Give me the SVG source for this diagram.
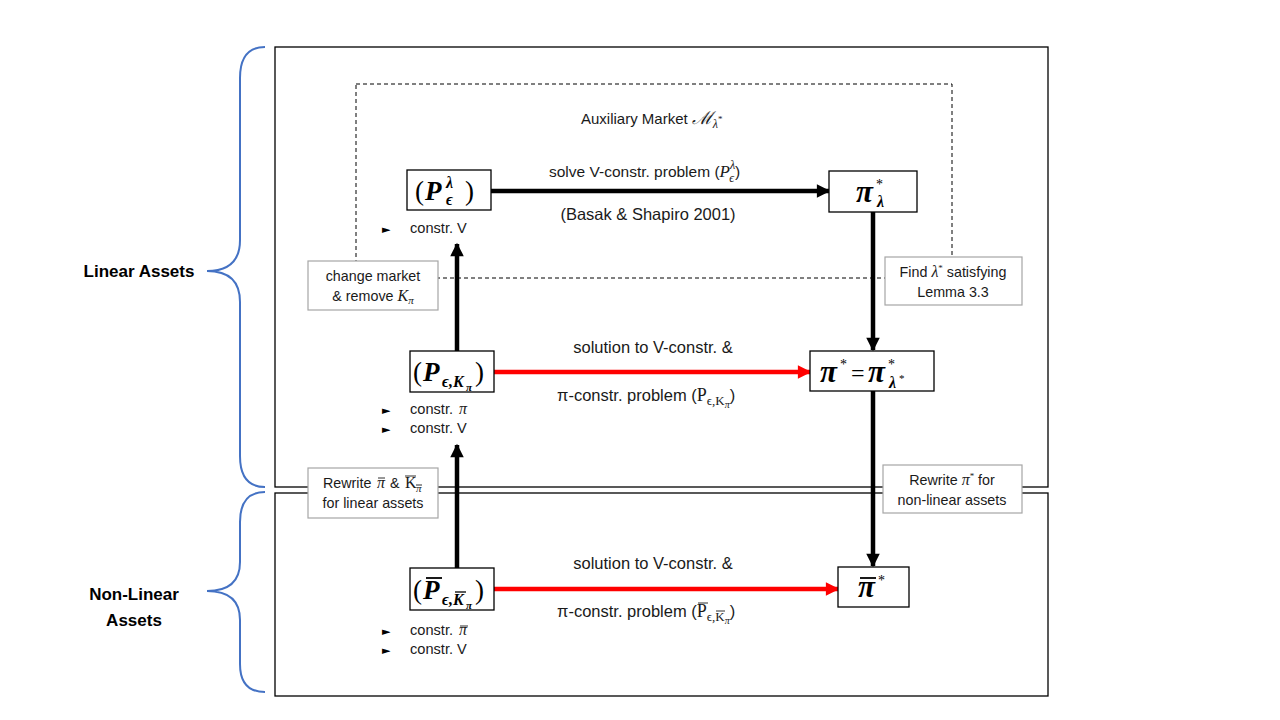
<svg xmlns="http://www.w3.org/2000/svg" width="1280" height="720" viewBox="0 0 1280 720">
<style>
.lbl{font-family:"Liberation Sans",Arial,sans-serif;font-size:16.5px;fill:#1a1a1a}
.sm{font-family:"Liberation Sans",Arial,sans-serif;font-size:14.6px;fill:#1a1a1a}
.note{font-family:"Liberation Sans",Arial,sans-serif;font-size:14.3px;fill:#1a1a1a}
.side{font-family:"Liberation Sans",Arial,sans-serif;font-size:17px;font-weight:bold;fill:#000}
.mp{font-family:"Liberation Serif","Times New Roman",serif;font-size:27px;fill:#000}
.pi{font-family:"Liberation Serif","Times New Roman",serif;font-size:31px;font-weight:bold;font-style:italic;fill:#000}
.mt{font-family:"Liberation Serif","Times New Roman",serif;font-size:17px;fill:#1a1a1a}
.bi{font-weight:bold;font-style:italic}
.it{font-style:italic}
.s18{font-size:18px}
.s16{font-size:16px}
.s15{font-size:15px}
.s14{font-size:14px}
.s13{font-size:13px}
.s12{font-size:12px}
.s11{font-size:11px}
.s10{font-size:10px}
.s9{font-size:9px}
.bul{font-family:"DejaVu Sans",sans-serif;font-size:11px;fill:#000}
.node{fill:#fff;stroke:#000;stroke-width:1.3}
.gbox{fill:#fff;stroke:#a6a6a6;stroke-width:1.2}
.frame{fill:none;stroke:#000;stroke-width:1.3}
.brace{fill:none;stroke:#4472c4;stroke-width:2}
.blk{stroke:#000;stroke-width:4.5;fill:none}
.red{stroke:#ff0000;stroke-width:4.5;fill:none}
.bar{stroke:#000;stroke-width:1.8}
.tbar{stroke:#1a1a1a;stroke-width:0.9}
</style>
<defs>
<marker id="ab" viewBox="0 0 10 10" refX="9" refY="5" markerWidth="3.4" markerHeight="3" orient="auto" markerUnits="strokeWidth"><path d="M0,0 L10,5 L0,10 z" fill="#000"/></marker>
<marker id="ar" viewBox="0 0 10 10" refX="9" refY="5" markerWidth="3.4" markerHeight="3" orient="auto" markerUnits="strokeWidth"><path d="M0,0 L10,5 L0,10 z" fill="#ff0000"/></marker>
</defs>
<rect width="1280" height="720" fill="#fff"/>

<g id="frames">
<rect class="frame" x="275" y="47" width="773" height="440"/>
<rect class="frame" x="275" y="493" width="773" height="203"/>
<rect x="356" y="84" width="596" height="194" fill="none" stroke="#000" stroke-width="1" stroke-dasharray="4,3"/>
</g>

<g id="braces">
<path class="brace" d="M265 47 Q240 47 240 78 L240 240 Q240 271 207 271 Q240 271 240 302 L240 456 Q240 487 265 487"/>
<path class="brace" d="M265 492 Q240 492 240 522 L240 562 Q240 591 207 591 Q240 591 240 620 L240 664 Q240 692 265 692"/>
<text class="side" x="139" y="277" text-anchor="middle">Linear Assets</text>
<text class="side" x="134" y="600" text-anchor="middle">Non-Linear</text>
<text class="side" x="134" y="626" text-anchor="middle">Assets</text>
</g>

<g id="aux-title">
<text class="lbl" x="581" y="124" style="font-size:15px">Auxiliary Market <tspan font-family="DejaVu Serif,serif" font-style="italic" style="font-size:18px">ℳ</tspan><tspan class="mt it s12" dy="4">λ</tspan><tspan class="mt s9" dy="-6">*</tspan></text>
</g>

<g id="connectors">
<line class="blk" x1="491" y1="191" x2="829" y2="191" marker-end="url(#ab)"/>
<line class="blk" x1="873" y1="212" x2="873" y2="350" marker-end="url(#ab)"/>
<line class="blk" x1="873" y1="391" x2="873" y2="566" marker-end="url(#ab)"/>
<line class="blk" x1="457" y1="351" x2="457" y2="244" marker-end="url(#ab)"/>
<line class="blk" x1="457" y1="568" x2="457" y2="445" marker-end="url(#ab)"/>
<line class="red" x1="494" y1="372" x2="810" y2="372" marker-end="url(#ar)"/>
<line class="red" x1="494" y1="589" x2="838" y2="589" marker-end="url(#ar)"/>
</g>

<g id="edge-labels">
<text class="lbl" x="549" y="177" style="font-size:15.5px">solve V-constr. problem (<tspan class="mt it">P</tspan><tspan class="mt it s12" dy="-8">λ</tspan><tspan class="mt it s12" dx="-6" dy="13">ϵ</tspan><tspan dx="1" dy="-5">)</tspan></text>
<text class="lbl" x="648" y="220" text-anchor="middle">(Basak &amp; Shapiro 2001)</text>

<text class="lbl" x="653" y="353" text-anchor="middle">solution to V-constr. &amp;</text>
<text class="lbl" x="557" y="401">π-constr. problem (<tspan class="mt s18">P</tspan><tspan class="mt s13" dy="4">ϵ,K</tspan><tspan class="mt it s10" dy="3">π</tspan><tspan dy="-7">)</tspan></text>

<text class="lbl" x="653" y="569" text-anchor="middle">solution to V-constr. &amp;</text>
<text class="lbl" x="557" y="617">π-constr. problem (<tspan class="mt s18">P</tspan><tspan class="mt s13" dy="4">ϵ,K</tspan><tspan class="mt it s10" dy="3">π</tspan><tspan dy="-7">)</tspan></text>
<line class="tbar" x1="698" y1="603" x2="708" y2="603"/>
<line class="tbar" x1="716" y1="611" x2="725" y2="611"/>
</g>

<g id="n-plambda">
<rect class="node" x="407" y="170" width="84" height="40"/>
<text class="mp" x="415" y="200">(</text>
<text class="mp bi" x="425" y="200">P</text>
<text class="mp bi s16" x="446" y="188">λ</text>
<text class="mp bi s16" x="446" y="205">ϵ</text>
<text class="mp" x="465" y="200">)</text>
<text class="bul" x="382" y="233">►</text>
<text class="sm" x="410" y="233">constr. V</text>
</g>

<g id="n-pilambda">
<rect class="node" x="829" y="171" width="88" height="41"/>
<text class="pi" x="856" y="202">π</text>
<text class="mp s14" x="876" y="189">*</text>
<text class="mp bi s16" x="877" y="207">λ</text>
</g>

<g id="n-pk">
<rect class="node" x="410" y="351" width="84" height="41"/>
<text class="mp" x="413" y="381">(</text>
<text class="mp bi" x="423" y="381">P</text>
<text class="mp bi s16" x="442" y="387">ϵ,K</text>
<text class="mp bi s11" x="466" y="391">π</text>
<text class="mp" x="475" y="381">)</text>
<text class="bul" x="382" y="414">►</text>
<text class="sm" x="410" y="414">constr.</text>
<text class="mt it s16" x="459" y="414">π</text>
<text class="bul" x="382" y="433">►</text>
<text class="sm" x="410" y="433">constr. V</text>
</g>

<g id="n-pistar">
<rect class="node" x="810" y="351" width="124" height="40"/>
<text class="pi" x="820" y="382">π</text>
<text class="mp s14" x="840" y="369">*</text>
<text class="mp" x="851" y="381" style="font-size:24px">=</text>
<text class="pi" x="868" y="382">π</text>
<text class="mp s14" x="888" y="369">*</text>
<text class="mp bi s16" x="889" y="388">λ</text>
<text class="mp s11" x="899" y="382">*</text>
</g>

<g id="n-change">
<rect class="gbox" x="308" y="261" width="130" height="49"/>
<text class="note" x="373" y="281" text-anchor="middle">change market</text>
<text class="note" x="373" y="301" text-anchor="middle">&amp; remove <tspan class="mt it s16">K</tspan><tspan class="mt it s11" dy="3">π</tspan></text>
</g>

<g id="n-find">
<rect class="gbox" x="885" y="257" width="137" height="48"/>
<text class="note" x="953" y="277" text-anchor="middle">Find <tspan class="mt it s16">λ</tspan><tspan class="mt s9" dy="-6">*</tspan><tspan dy="6"> satisfying</tspan></text>
<text class="note" x="953" y="297" text-anchor="middle">Lemma 3.3</text>
</g>

<g id="n-rewrite1">
<rect class="gbox" x="308" y="468" width="130" height="50"/>
<text class="note" x="323" y="488">Rewrite</text>
<text class="mt it s16" x="377" y="488">π</text>
<line class="tbar" x1="378" y1="478" x2="385" y2="478"/>
<text class="note" x="390" y="488">&amp;</text>
<text class="mt s16" x="405" y="488">K</text>
<line class="tbar" x1="405" y1="476" x2="416" y2="476"/>
<text class="mt it s11" x="416" y="492">π</text>
<line class="tbar" x1="416" y1="485" x2="422" y2="485"/>
<text class="note" x="373" y="508" text-anchor="middle">for linear assets</text>
</g>

<g id="n-rewrite2">
<rect class="gbox" x="883" y="465" width="139" height="48"/>
<text class="note" x="952" y="485" text-anchor="middle">Rewrite <tspan class="mt it s16">π</tspan><tspan class="mt s9" dy="-6">*</tspan><tspan dy="6"> for</tspan></text>
<text class="note" x="952" y="505" text-anchor="middle">non-linear assets</text>
</g>

<g id="n-pbar">
<rect class="node" x="410" y="568" width="84" height="42"/>
<text class="mp" x="413" y="599">(</text>
<text class="mp bi" x="423" y="599">P</text>
<line class="bar" x1="426" y1="578" x2="442" y2="578"/>
<text class="mp bi s16" x="442" y="605">ϵ,K</text>
<line x1="455" y1="592" x2="466" y2="592" stroke="#000" stroke-width="1.3"/>
<text class="mp bi s11" x="466" y="609">π</text>
<text class="mp" x="475" y="599">)</text>
<text class="bul" x="382" y="635">►</text>
<text class="sm" x="410" y="635">constr.</text>
<text class="mt it s16" x="459" y="635">π</text>
<line class="tbar" x1="460" y1="626" x2="468" y2="626"/>
<text class="bul" x="382" y="654">►</text>
<text class="sm" x="410" y="654">constr. V</text>
</g>

<g id="n-pibar">
<rect class="node" x="838" y="567" width="71" height="40"/>
<text class="pi" x="858" y="597">π</text>
<line class="bar" x1="860" y1="578" x2="876" y2="578"/>
<text class="mp s14" x="878" y="585">*</text>
</g>
</svg>
